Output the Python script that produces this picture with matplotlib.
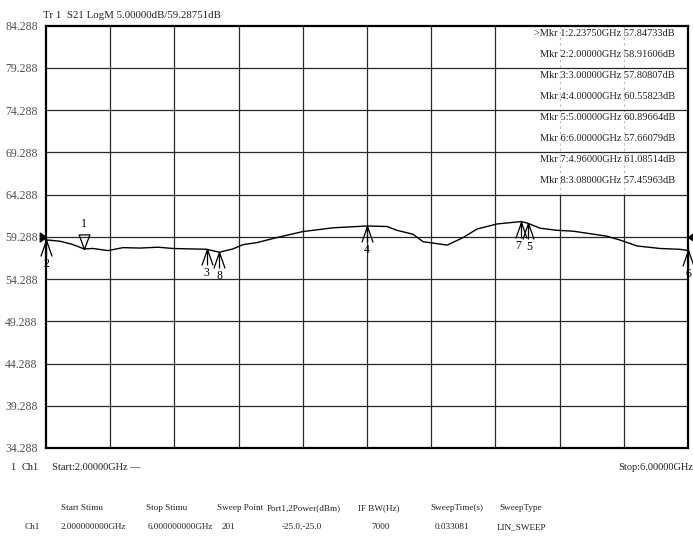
import matplotlib
matplotlib.use("Agg")
import matplotlib.pyplot as plt
from matplotlib.path import Path
from matplotlib.patches import Rectangle

# trace (GHz, dB)
freq = [2.000, 2.087, 2.162, 2.2375, 2.293, 2.386, 2.480, 2.586, 2.698, 2.791,
        2.897, 3.000, 3.080, 3.165, 3.227, 3.315, 3.440, 3.600, 3.790, 4.000,
        4.125, 4.187, 4.287, 4.350, 4.500, 4.600, 4.685, 4.810, 4.960, 5.000,
        5.078, 5.184, 5.284, 5.408, 5.495, 5.576, 5.682, 5.826, 5.950, 6.000]
s21 = [58.92, 58.76, 58.40, 57.85, 57.90, 57.65, 58.00, 57.95, 58.05, 57.90,
       57.85, 57.81, 57.46, 57.85, 58.35, 58.60, 59.20, 59.90, 60.35, 60.56,
       60.50, 60.05, 59.58, 58.70, 58.30, 59.20, 60.20, 60.80, 61.085, 60.90,
       60.30, 60.05, 59.95, 59.60, 59.35, 58.90, 58.20, 57.90, 57.80, 57.66]

mkr_num = [1, 2, 3, 4, 5, 6, 7, 8]
mkr_freq = [2.23750, 2.00000, 3.00000, 4.00000, 5.00000, 6.00000, 4.96000, 3.08000]
mkr_db = [57.84733, 58.91606, 57.80807, 60.55823, 60.89664, 57.66079, 61.08514, 57.45963]

ref_level = 59.28751
scale = 5.0
y_ticks = [34.288 + 5 * k for k in range(11)]

hdr_names = ["Start Stimu", "Stop Stimu", "Sweep Point", "Port1,2Power(dBm)",
             "IF BW(Hz)", "SweepTime(s)", "SweepType"]
hdr_values = ["2.000000000GHz", "6.000000000GHz", "201", "-25.0,-25.0",
              "7000", "0.033081", "LIN_SWEEP"]

W, H = 693, 537
plt.rcParams['font.family'] = ['Liberation Serif', 'DejaVu Sans']
fig = plt.figure(figsize=(W / 100, H / 100), dpi=100)
ax = fig.add_axes([46 / W, 1 - 448 / H, 642 / W, 422.5 / H])


def ftext(x, y, s, **kw):
    # figure text placed in screen pixels (origin top left)
    kw.setdefault('fontsize', 7.5)
    kw.setdefault('va', 'center')
    kw.setdefault('color', '#202020')
    fig.text(x / W, 1 - y / H, s, **kw)


ax.set_xlim(2, 6)
ax.set_ylim(y_ticks[0], y_ticks[-1])

# grid (drawn by hand so the marker table can sit over part of it)
for yv in y_ticks[1:-1]:
    ax.axhline(yv, color='#2a2a2a', lw=0.9, zorder=3)
xg = [2 + 0.4 * k for k in range(1, 10)]
for xv in xg:
    if xv > 5.0:
        ax.axvline(xv, ymax=0.6, color='#2a2a2a', lw=0.9, zorder=1)
        ax.axvline(xv, ymin=0.6, color='#b8b8b8', lw=0.8, ls=(0, (2, 3)), zorder=2.5)
    else:
        ax.axvline(xv, color='#2a2a2a', lw=0.9, zorder=3)

ax.add_patch(Rectangle((4.8, 64.288), 1.2, 20, facecolor='white',
                       edgecolor='none', zorder=2))

ax.plot(freq, s21, color='black', lw=1.0, zorder=4)

# marker symbols
up = Path([(0, 0), (-0.35, -1), (0, 0), (0, -1), (0, 0), (0.35, -1)],
          [Path.MOVETO, Path.LINETO, Path.MOVETO, Path.LINETO, Path.MOVETO, Path.LINETO])
down = Path([(0, 0), (-0.37, 1), (0.37, 1), (0, 0)],
            [Path.MOVETO, Path.LINETO, Path.LINETO, Path.CLOSEPOLY])
lab_dx = {7: -3, 5: 2}
for n, f, d in zip(mkr_num, mkr_freq, mkr_db):
    if n == 1:
        ax.plot(f, d, marker=down, ms=21, mfc='none', mec='black', mew=0.9,
                clip_on=False, zorder=6)
        ax.annotate(str(n), (f, d), xytext=(0, 25), textcoords='offset pixels',
                    ha='center', va='center', fontsize=8.5, zorder=6)
    else:
        ax.plot(f, d, marker=up, ms=23, mfc='none', mec='black', mew=0.9,
                clip_on=False, zorder=6)
        ax.annotate(str(n), (f, d), xytext=(lab_dx.get(n, 0), -24),
                    textcoords='offset pixels', ha='center', va='center',
                    fontsize=8.5, zorder=6, annotation_clip=False)

# reference level pointers
tri_r = Path([(0, 0), (-1, 0.7), (-1, -0.7), (0, 0)],
             [Path.MOVETO, Path.LINETO, Path.LINETO, Path.CLOSEPOLY])
tri_l = Path([(0, 0), (1, 0.7), (1, -0.7), (0, 0)],
             [Path.MOVETO, Path.LINETO, Path.LINETO, Path.CLOSEPOLY])
ax.plot(2, ref_level, marker=tri_r, ms=9, color='black', clip_on=False, zorder=7)
ax.plot(6, ref_level, marker=tri_l, ms=9, color='black', clip_on=False, zorder=7)

# marker table
for i, (n, f, d) in enumerate(zip(mkr_num, mkr_freq, mkr_db)):
    s = (">" if n == 1 else "") + "Mkr %d:%.5fGHz %.5fdB" % (n, f, d)
    ftext(675, 33 + 21.1 * i, s, ha='right', fontsize=7.5, zorder=8)

ax.set_xticks([])
ax.set_yticks(y_ticks)
ax.set_yticklabels(["%.3f" % v for v in y_ticks], fontsize=8.5, color='#505050')
ax.tick_params(axis='y', length=0, pad=6)
for sp in ax.spines.values():
    sp.set_linewidth(1.6)
    sp.set_zorder(9)

ftext(43, 15, "Tr 1  S21 LogM %.5fdB/%.5fdB" % (scale, ref_level), ha='left', fontsize=7.8)
ftext(10, 468, "1", ha='left')
ftext(22, 468, "Ch1", ha='left')
ftext(52, 468, "Start:2.00000GHz \u2014", ha='left')
ftext(693, 468, "Stop:6.00000GHz", ha='right')

hx = [61, 146, 217, 267, 358, 430, 499]
vx = [61, 148, 222, 282, 371, 435, 497]
for x, s in zip(hx, hdr_names):
    ftext(x, 508, s, ha='left', fontsize=6.6)
ftext(25, 527, "Ch1", ha='left', fontsize=6.6)
for x, s in zip(vx, hdr_values):
    ftext(x, 527, s, ha='left', fontsize=6.6)

fig.savefig("out.png", dpi=100)
